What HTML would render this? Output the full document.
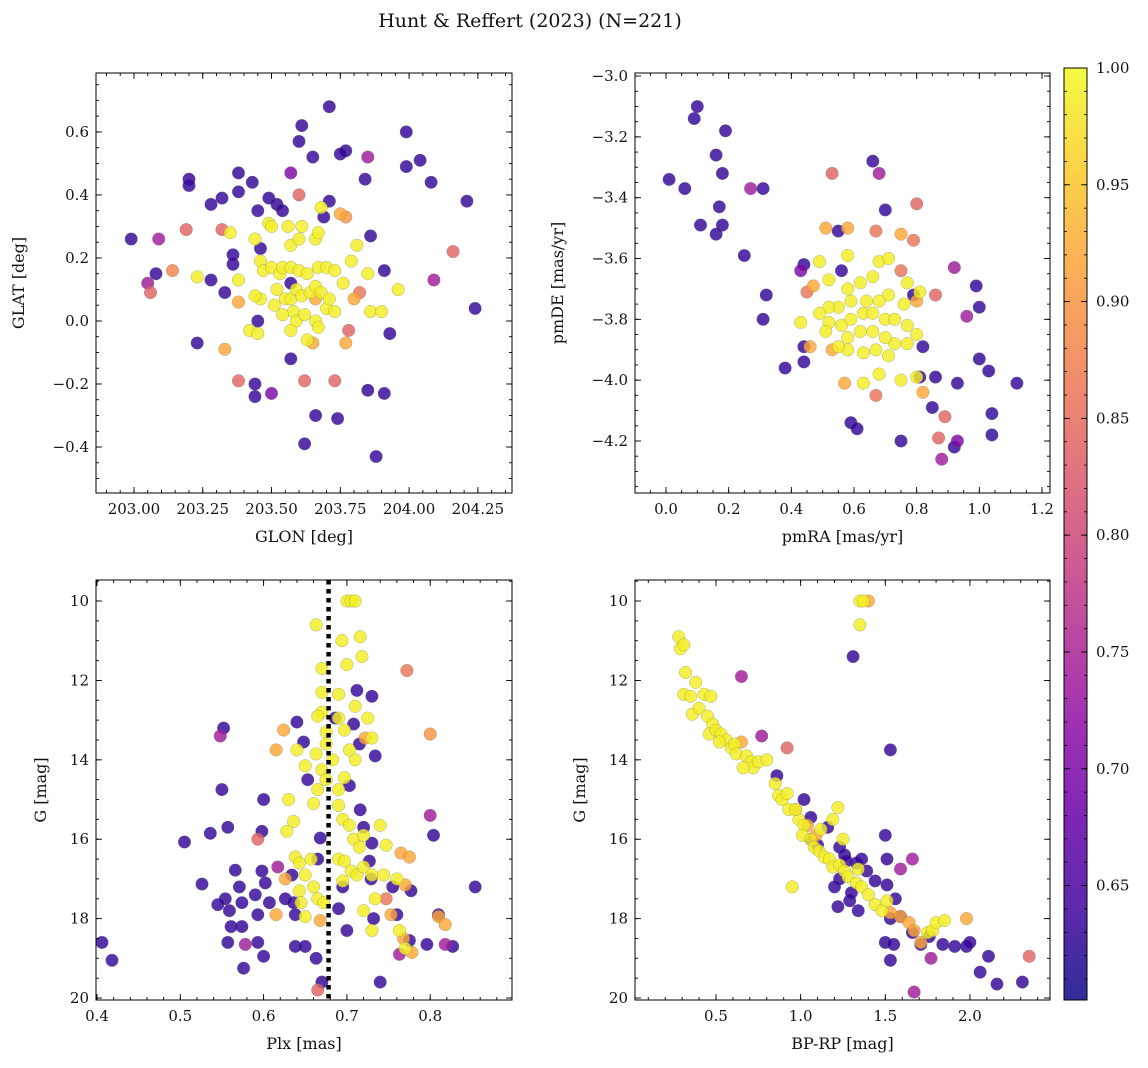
<!DOCTYPE html>
<html><head><meta charset="utf-8">
<style>
html,body{margin:0;padding:0;background:#fff;}
svg{display:block;font-family:"DejaVu Serif","Liberation Serif",serif;}
</style></head>
<body>
<svg id="fig" width="1148" height="1068" viewBox="0 0 1148 1068">
<text x="530" y="27" text-anchor="middle" font-size="19" fill="#111">Hunt &amp; Reffert (2023) (N=221)</text>
</svg>
<script>
// ---- Data (probability codes: 0.99 yellow, 0.92 orange, 0.84 pink, 0.74 magenta, 0.63 purple)
const glon=[202.99,203.09,203.08,203.05,203.06,203.14,203.19,203.20,203.20,203.23,203.28,203.28,203.32,203.32,203.33,203.36,203.38,203.38,203.36,203.33,203.38,203.43,203.44,203.44,203.45,203.45,203.46,203.49,203.50,203.52,203.54,203.57,203.57,203.60,203.61,203.60,203.62,203.62,203.65,203.66,203.66,203.69,203.71,203.71,203.73,203.74,203.77,203.75,203.75,203.77,203.78,203.84,203.85,203.85,203.86,203.88,203.91,203.91,203.93,203.99,203.99,204.04,204.08,204.09,204.16,204.21,204.24,203.57,
203.23,203.35,203.38,203.38,203.42,203.45,203.46,203.49,203.47,203.50,203.53,203.54,203.57,203.60,203.63,203.67,203.70,203.73,203.76,203.79,203.81,203.85,203.86,203.90,203.96,203.80,203.52,203.55,203.58,203.59,203.62,203.66,203.67,203.70,203.73,203.57,203.59,203.61,203.64,203.66,203.68,203.71,203.57,203.60,203.66,203.67,203.61,203.56,203.50,203.44,203.68,203.77,203.82,203.57,203.63,203.65,203.51,203.54,203.46,203.44];
const glat=[0.26,0.26,0.15,0.12,0.09,0.16,0.29,0.45,0.43,-0.07,0.13,0.37,0.39,0.29,0.09,0.18,0.47,0.41,0.21,-0.09,-0.19,0.44,-0.20,-0.24,0.00,0.35,0.23,0.39,-0.23,0.37,0.35,0.47,-0.12,0.57,0.62,0.40,-0.19,-0.39,0.52,0.07,-0.30,0.33,0.68,0.38,-0.19,-0.31,0.54,0.53,0.34,-0.07,-0.03,0.45,0.52,-0.22,0.27,-0.43,-0.23,0.16,-0.04,0.60,0.49,0.51,0.44,0.13,0.22,0.38,0.04,0.12,
0.14,0.28,0.06,0.13,-0.03,-0.04,0.19,0.31,0.16,0.17,0.15,0.17,0.17,0.16,0.15,0.17,0.17,0.16,0.12,0.19,0.24,0.15,0.03,0.03,0.10,0.07,0.10,0.07,0.03,0.00,0.02,0.00,-0.02,0.04,0.03,0.07,0.10,0.08,0.09,0.11,0.09,0.07,0.24,0.26,0.26,0.28,0.30,0.30,0.30,0.26,0.36,0.33,0.09,-0.03,-0.06,-0.07,0.05,0.02,0.07,0.08];
const prob1=[0.63,0.74,0.63,0.74,0.84,0.88,0.84,0.63,0.63,0.63,0.63,0.63,0.63,0.84,0.63,0.63,0.63,0.63,0.63,0.92,0.84,0.63,0.63,0.63,0.63,0.63,0.63,0.63,0.70,0.63,0.63,0.70,0.63,0.63,0.63,0.84,0.84,0.63,0.63,0.92,0.63,0.63,0.63,0.63,0.84,0.63,0.63,0.63,0.92,0.92,0.84,0.63,0.74,0.63,0.63,0.63,0.63,0.63,0.63,0.63,0.63,0.63,0.63,0.74,0.84,0.63,0.63,0.63,
0.99,0.99,0.92,0.99,0.99,0.99,0.99,0.99,0.99,0.99,0.99,0.99,0.99,0.99,0.99,0.99,0.99,0.99,0.99,0.99,0.99,0.99,0.99,0.99,0.99,0.92,0.99,0.99,0.99,0.99,0.99,0.99,0.99,0.99,0.99,0.99,0.99,0.99,0.99,0.99,0.99,0.99,0.99,0.99,0.99,0.99,0.99,0.99,0.99,0.99,0.99,0.90,0.86,0.99,0.99,0.92,0.99,0.99,0.99,0.99];

const pmra=[0.01,0.06,0.10,0.09,0.11,0.19,0.16,0.18,0.17,0.18,0.16,0.25,0.27,0.31,0.32,0.31,0.38,0.43,0.44,0.44,0.44,0.53,0.55,0.56,0.66,0.68,0.70,0.80,0.59,0.61,0.75,0.81,0.86,0.85,0.87,0.88,0.92,0.93,0.89,0.93,0.96,0.92,0.99,1.00,1.00,1.03,1.04,1.04,1.12,0.79,0.82,0.86,
0.51,0.58,0.67,0.75,0.79,0.58,0.49,0.47,0.45,0.52,0.58,0.62,0.66,0.68,0.71,0.75,0.77,0.80,0.76,0.71,0.68,0.64,0.59,0.55,0.52,0.49,0.52,0.56,0.59,0.63,0.66,0.70,0.73,0.77,0.80,0.77,0.73,0.70,0.66,0.62,0.58,0.58,0.63,0.67,0.71,0.68,0.63,0.57,0.75,0.80,0.82,0.67,0.53,0.46,0.43,0.51,0.55,0.81];
const pmde=[-3.34,-3.37,-3.10,-3.14,-3.49,-3.18,-3.26,-3.32,-3.43,-3.49,-3.52,-3.59,-3.37,-3.37,-3.72,-3.80,-3.96,-3.64,-3.62,-3.94,-3.89,-3.32,-3.51,-3.64,-3.28,-3.32,-3.44,-3.42,-4.14,-4.16,-4.20,-3.99,-3.99,-4.09,-4.19,-4.26,-4.22,-4.20,-4.12,-4.01,-3.79,-3.63,-3.69,-3.76,-3.93,-3.97,-4.11,-4.18,-4.01,-3.72,-3.89,-3.72,
-3.50,-3.50,-3.51,-3.52,-3.54,-3.59,-3.61,-3.69,-3.71,-3.67,-3.70,-3.68,-3.66,-3.61,-3.60,-3.64,-3.68,-3.74,-3.75,-3.72,-3.74,-3.74,-3.74,-3.76,-3.76,-3.78,-3.81,-3.82,-3.80,-3.78,-3.78,-3.80,-3.80,-3.82,-3.85,-3.88,-3.88,-3.86,-3.84,-3.84,-3.86,-3.90,-3.91,-3.90,-3.92,-3.98,-4.01,-4.01,-4.00,-3.99,-4.04,-4.05,-3.90,-3.89,-3.81,-3.84,-3.89,-3.71];
const prob2=[0.63,0.63,0.63,0.63,0.63,0.63,0.63,0.63,0.63,0.63,0.63,0.63,0.74,0.63,0.63,0.63,0.63,0.70,0.63,0.63,0.63,0.84,0.63,0.63,0.63,0.74,0.63,0.84,0.63,0.63,0.63,0.63,0.63,0.63,0.84,0.74,0.63,0.70,0.84,0.63,0.74,0.74,0.63,0.63,0.63,0.63,0.63,0.63,0.63,0.63,0.63,0.84,
0.92,0.92,0.86,0.92,0.86,0.99,0.99,0.92,0.86,0.99,0.99,0.99,0.99,0.99,0.99,0.86,0.99,0.92,0.99,0.99,0.99,0.99,0.99,0.99,0.99,0.99,0.99,0.99,0.99,0.99,0.99,0.99,0.99,0.99,0.99,0.99,0.99,0.99,0.99,0.99,0.99,0.99,0.99,0.99,0.99,0.99,0.99,0.92,0.99,0.99,0.92,0.86,0.92,0.92,0.99,0.99,0.99,0.99];

const plx=[0.406,0.418,0.505,0.526,0.536,0.545,0.55,0.552,0.548,0.557,0.554,0.559,0.561,0.557,0.566,0.571,0.574,0.574,0.578,0.576,0.59,0.593,0.593,0.598,0.60,0.598,0.60,0.607,0.602,0.617,0.626,0.634,0.636,0.638,0.638,0.64,0.648,0.653,0.65,0.665,0.668,0.663,0.67,0.665,0.686,0.69,0.695,0.70,0.703,0.708,0.712,0.715,0.716,0.72,0.727,0.729,0.73,0.73,0.732,0.734,0.74,0.755,0.76,0.763,0.775,0.777,0.796,0.80,0.804,0.81,0.818,0.827,0.854,
0.70,0.705,0.71,0.663,0.694,0.70,0.716,0.718,0.772,0.67,0.67,0.67,0.665,0.675,0.69,0.69,0.697,0.71,0.725,0.722,0.73,0.624,0.615,0.80,0.64,0.65,0.663,0.665,0.66,0.67,0.675,0.675,0.683,0.69,0.69,0.697,0.695,0.703,0.708,0.63,0.636,0.628,0.638,0.643,0.657,0.65,0.643,0.645,0.65,0.626,0.615,0.593,0.66,0.665,0.668,0.672,0.69,0.697,0.695,0.705,0.712,0.72,0.73,0.734,0.72,0.73,0.744,0.747,0.76,0.77,0.753,0.768,0.77,0.778,0.765,0.775,0.763,0.81,0.818,0.715,0.72,0.74,0.747,0.71,0.703];
const gmag3=[18.6,19.05,16.07,17.13,15.85,17.65,14.75,13.2,13.4,15.7,17.5,17.8,18.2,18.6,16.78,17.2,17.6,18.2,18.65,19.25,17.4,17.9,18.6,16.8,15.0,15.8,18.95,17.6,17.1,16.7,17.5,16.9,17.6,17.9,18.7,13.05,13.55,14.5,18.7,16.5,15.97,19.0,19.6,19.8,12.95,17.75,17.2,18.3,14.65,13.1,12.25,13.6,15.26,15.7,16.55,17.0,16.1,12.4,18.0,13.9,19.6,17.2,17.9,18.9,18.55,17.3,18.65,15.4,15.9,17.9,18.65,18.7,17.2,
10.0,10.0,10.0,10.6,11.0,11.6,10.9,11.4,11.75,11.7,12.3,12.8,12.9,13.3,12.35,12.95,13.25,12.65,12.95,13.45,13.45,13.25,13.75,13.35,13.75,14.15,13.85,14.75,15.1,14.25,13.6,14.5,14.0,14.75,15.15,14.45,15.5,15.65,16.0,15.0,15.55,15.8,16.45,16.6,16.5,16.9,17.3,17.6,17.95,17.0,17.9,16.0,17.2,17.5,18.05,17.6,16.5,16.55,17.05,16.8,16.9,16.7,16.9,17.5,17.8,18.3,16.9,17.5,17.0,17.15,17.9,18.5,18.75,18.85,16.35,16.45,18.3,17.95,18.15,16.2,15.9,15.65,16.15,14.0,13.75];
const prob3=[0.63,0.63,0.63,0.63,0.63,0.63,0.63,0.63,0.74,0.63,0.63,0.63,0.63,0.63,0.63,0.63,0.63,0.63,0.74,0.63,0.63,0.63,0.63,0.63,0.63,0.63,0.63,0.63,0.63,0.74,0.63,0.63,0.63,0.63,0.63,0.63,0.63,0.63,0.63,0.63,0.63,0.63,0.63,0.84,0.63,0.63,0.63,0.63,0.63,0.63,0.63,0.63,0.63,0.63,0.63,0.63,0.63,0.63,0.63,0.63,0.63,0.63,0.63,0.74,0.63,0.63,0.63,0.74,0.63,0.63,0.74,0.63,0.63,
0.99,0.99,0.99,0.99,0.99,0.99,0.99,0.99,0.86,0.99,0.99,0.99,0.99,0.99,0.99,0.99,0.99,0.99,0.99,0.92,0.99,0.92,0.92,0.90,0.99,0.99,0.99,0.99,0.99,0.99,0.99,0.99,0.99,0.99,0.99,0.99,0.99,0.99,0.99,0.99,0.99,0.99,0.99,0.99,0.99,0.99,0.99,0.99,0.99,0.92,0.92,0.84,0.99,0.99,0.92,0.99,0.99,0.99,0.99,0.99,0.99,0.99,0.99,0.99,0.99,0.99,0.99,0.86,0.99,0.92,0.92,0.92,0.99,0.92,0.92,0.92,0.99,0.92,0.92,0.99,0.99,0.99,0.99,0.99,0.99];

const bprp=[0.28,0.29,0.31,0.32,0.31,0.35,0.38,0.43,0.47,0.36,0.40,0.45,0.48,0.46,0.50,0.53,0.56,0.52,0.59,0.61,0.62,0.65,0.68,0.71,0.72,0.75,0.80,0.66,0.85,0.87,0.89,0.92,0.93,0.97,0.99,1.02,1.01,1.06,1.08,1.11,1.14,1.17,1.19,1.23,1.26,1.28,1.33,1.36,1.40,1.44,1.48,1.51,1.53,1.59,1.64,1.67,1.71,1.75,1.78,1.80,1.85,1.98,2.35,0.95,1.35,1.37,1.40,1.35,1.22,1.19,1.12,1.09,1.04,0.97,1.25,1.34,
1.31,1.53,0.65,0.77,0.92,0.86,1.02,1.06,1.16,1.23,1.26,1.33,1.39,1.50,1.51,1.44,1.51,1.56,1.59,1.66,1.53,1.50,1.55,1.53,1.59,1.66,1.71,1.76,1.77,1.84,1.91,1.98,2.00,2.06,2.11,2.16,2.31,1.67,1.23,1.20,1.22,1.29,1.34,1.30,1.27,1.36,1.10,1.06];
const gmag4=[10.9,11.2,11.1,11.8,12.35,12.4,12.05,12.35,12.4,12.85,12.7,12.9,13.1,13.35,13.25,13.35,13.5,13.55,13.7,13.6,13.85,13.55,13.9,14.05,14.2,14.05,14.0,14.2,14.6,14.9,15.0,14.85,15.25,15.25,15.5,15.65,15.9,16.0,16.2,16.3,16.45,16.5,16.7,16.65,16.8,16.95,17.1,17.2,17.4,17.65,17.8,17.55,17.85,17.95,18.1,18.3,18.6,18.35,18.3,18.1,18.05,18.0,18.95,17.2,10.0,10.0,10.0,10.6,15.2,15.5,15.75,15.9,15.65,15.25,16.0,16.75,
11.4,13.75,11.9,13.4,13.7,14.4,15.0,15.45,15.7,16.2,16.4,16.6,16.8,15.9,16.5,17.05,17.15,17.5,16.75,16.5,18.0,18.6,18.65,19.05,17.95,18.35,18.65,18.45,19.0,18.65,18.7,18.7,18.6,19.35,18.95,19.65,19.6,19.85,17.0,17.2,17.7,17.55,17.8,17.35,16.55,16.5,16.15,16.0];
const prob4=[0.99,0.99,0.99,0.99,0.99,0.99,0.99,0.99,0.99,0.99,0.99,0.99,0.99,0.99,0.99,0.99,0.99,0.99,0.99,0.99,0.99,0.92,0.99,0.99,0.99,0.99,0.99,0.99,0.99,0.99,0.99,0.99,0.99,0.92,0.99,0.99,0.99,0.99,0.99,0.99,0.99,0.99,0.99,0.99,0.99,0.99,0.99,0.99,0.99,0.99,0.99,0.99,0.92,0.92,0.92,0.92,0.92,0.99,0.99,0.99,0.99,0.92,0.84,0.99,0.99,0.99,0.92,0.99,0.99,0.99,0.99,0.92,0.92,0.99,0.99,0.99,
0.63,0.63,0.74,0.74,0.84,0.63,0.63,0.63,0.63,0.63,0.63,0.63,0.63,0.63,0.63,0.63,0.63,0.63,0.74,0.74,0.63,0.63,0.63,0.63,0.63,0.63,0.63,0.63,0.74,0.63,0.63,0.63,0.63,0.63,0.63,0.63,0.63,0.74,0.63,0.63,0.63,0.63,0.63,0.63,0.63,0.63,0.63,0.63];

const cbTicks=[0.65,0.70,0.75,0.80,0.85,0.90,0.95,1.00];
const plxRef=[0.678];

// ---- helpers
const NS="http://www.w3.org/2000/svg";
const svg=document.getElementById('fig');
function mk(tag,attrs,parent){const e=document.createElementNS(NS,tag);for(const k in attrs)e.setAttribute(k,attrs[k]);(parent||svg).appendChild(e);return e;}
const VMIN=0.601,VMAX=1.0;
const stops=[[13,8,135],[65,4,157],[106,0,168],[143,13,164],[177,42,144],[204,71,120],[225,100,98],[242,132,75],[252,166,54],[252,206,37],[240,249,33]];
function plasma(v){let t=(v-VMIN)/(VMAX-VMIN);t=Math.max(0,Math.min(1,t));const f=t*10,i=Math.min(9,Math.floor(f)),r=f-i;const a=stops[i],b=stops[i+1];return `rgb(${Math.round(a[0]+(b[0]-a[0])*r)},${Math.round(a[1]+(b[1]-a[1])*r)},${Math.round(a[2]+(b[2]-a[2])*r)})`;}
function fmt(v,d){let s=v.toFixed(d);if(s.startsWith('-'))s='\u2212'+s.slice(1);return s;}

function panel(cfg,xs,ys,ps){
  const {L,R,T,B,x0,x1,y0,y1,name}=cfg;
  const g=mk('g',{});
  
  
  const sx=v=>L+(v-x0)/(x1-x0)*(R-L);
  const sy=v=>T+(y1-v)/(y1-y0)*(B-T);
  const clipId='clip-'+name;
  const cp=mk('clipPath',{id:clipId},g);mk('rect',{x:L,y:T,width:R-L,height:B-T},cp);
  const pts=mk('g',{'clip-path':`url(#${clipId})`},g);
  
  
  const idx=xs.map((_,i)=>i).sort((a,b)=>ps[a]-ps[b]);
  idx.forEach(i=>{
    const c=mk('circle',{cx:sx(xs[i]).toFixed(1),cy:sy(ys[i]).toFixed(1),r:6.3,fill:plasma(ps[i]),'fill-opacity':0.82,stroke:'#666','stroke-width':0.4,'stroke-opacity':0.6},pts);
    
    
  });
  if(cfg.vline){cfg.vline.forEach(v=>{const l=mk('line',{x1:sx(v),x2:sx(v),y1:T,y2:B,stroke:'#000','stroke-width':4.5,'stroke-dasharray':'4.5,4.5'},g);});}
  const fr=mk('rect',{x:L,y:T,width:R-L,height:B-T,fill:'none',stroke:'#000','stroke-width':1},g);
  
  
  const tk=mk('g',{stroke:'#000','stroke-width':0.9},g);
  const eps=1e-9;
  for(let v=Math.ceil(x0/cfg.xmin-eps)*cfg.xmin;v<=x1+eps;v+=cfg.xmin){const X=sx(v);mk('line',{x1:X,x2:X,y1:B,y2:B-3},tk);mk('line',{x1:X,x2:X,y1:T,y2:T+3},tk);}
  for(let v=Math.ceil(y0/cfg.ymin-eps)*cfg.ymin;v<=y1+eps;v+=cfg.ymin){const Y=sy(v);mk('line',{x1:L,x2:L+3,y1:Y,y2:Y},tk);mk('line',{x1:R,x2:R-3,y1:Y,y2:Y},tk);}
  cfg.xt.forEach(v=>{const X=sx(v);mk('line',{x1:X,x2:X,y1:B,y2:B-6},tk);mk('line',{x1:X,x2:X,y1:T,y2:T+6},tk);
    const t=mk('text',{x:X,y:B+21,'text-anchor':'middle','font-size':15,fill:'#111'},g);t.textContent=fmt(v,cfg.xd);});
  cfg.yt.forEach(v=>{const Y=sy(v);mk('line',{x1:L,x2:L+6,y1:Y,y2:Y},tk);mk('line',{x1:R,x2:R-6,y1:Y,y2:Y},tk);
    const t=mk('text',{x:L-7,y:Y+5,'text-anchor':'end','font-size':15,fill:'#111'},g);t.textContent=fmt(v,cfg.yd);});
  const xl=mk('text',{x:(L+R)/2,y:B+49,'text-anchor':'middle','font-size':16,fill:'#111'},g);xl.textContent=cfg.xlab;
  
  const yl=mk('text',{x:cfg.ylx,y:(T+B)/2,'text-anchor':'middle','font-size':16,fill:'#111',transform:`rotate(-90 ${cfg.ylx} ${(T+B)/2})`},g);yl.textContent=cfg.ylab;
  
}
const rng=(a,b,s)=>{const o=[];for(let v=a;v<=b+1e-9;v+=s)o.push(+v.toFixed(4));return o;};

panel({name:'glon-glat-panel',L:96,R:512,T:73,B:493,x0:202.862,x1:204.374,y0:-0.546,y1:0.787,xt:rng(203,204.25,0.25),xd:2,yt:rng(-0.4,0.6,0.2),yd:1,xmin:0.05,ymin:0.05,xlab:'GLON [deg]',ylab:'GLAT [deg]',ylx:24},glon,glat,prob1);
panel({name:'proper-motion-panel',L:635,R:1050,T:73,B:493,x0:-0.099,x1:1.2256,y0:-4.371,y1:-2.99,xt:rng(0,1.2,0.2),xd:1,yt:rng(-4.2,-3.0,0.2),yd:1,xmin:0.05,ymin:0.05,xlab:'pmRA [mas/yr]',ylab:'pmDE [mas/yr]',ylx:563},pmra,pmde,prob2);
panel({name:'parallax-mag-panel',L:96,R:512,T:580,B:1000,x0:0.3988,x1:0.8982,y0:-20.05,y1:-9.47,xt:rng(0.4,0.8,0.1),xd:1,yt:[],yd:0,xmin:0.02,ymin:0.5,xlab:'Plx [mas]',ylab:'G [mag]',ylx:46,vline:plxRef},plx,gmag3.map(v=>-v),prob3);
panel({name:'cmd-panel',L:635,R:1050,T:580,B:1000,x0:0.0216,x1:2.473,y0:-20.05,y1:-9.47,xt:rng(0.5,2.0,0.5),xd:1,yt:[],yd:0,xmin:0.1,ymin:0.5,xlab:'BP-RP [mag]',ylab:'G [mag]',ylx:585},bprp,gmag4.map(v=>-v),prob4);
[[96,'parallax'],[635,'cmd']].forEach(([L,n])=>{
  [10,12,14,16,18,20].forEach(m=>{const Y=580+(m-9.47)/(20.05-9.47)*420;
    mk('line',{x1:L,x2:L+6,y1:Y,y2:Y,stroke:'#000','stroke-width':0.9});
    mk('line',{x1:L+(n==='cmd'?415:416),x2:L+(n==='cmd'?409:410),y1:Y,y2:Y,stroke:'#000','stroke-width':0.9});
    const t=mk('text',{x:L-7,y:Y+5,'text-anchor':'end','font-size':15,fill:'#111'});t.textContent=String(m);
    
    });
});

// ---- colorbar
(function(){
  const L=1064,R=1087,T=68,B=1000;
  const g=mk('g',{});
  
  
  const defs=mk('defs',{},g);
  const lg=mk('linearGradient',{id:'cbg',x1:0,y1:1,x2:0,y2:0},defs);
  for(let i=0;i<=20;i++){const v=VMIN+(VMAX-VMIN)*i/20;mk('stop',{offset:i/20,'stop-color':plasma(v),'stop-opacity':0.85},lg);}
  mk('rect',{x:L,y:T,width:R-L,height:B-T,fill:'url(#cbg)',stroke:'#000','stroke-width':1},g);
  const sy=v=>T+(VMAX-v)/(VMAX-VMIN)*(B-T);
  for(let v=0.61;v<=1.0001;v+=0.01){const Y=sy(v);mk('line',{x1:R,x2:R-3,y1:Y,y2:Y,stroke:'#000','stroke-width':0.8},g);mk('line',{x1:L,x2:L+3,y1:Y,y2:Y,stroke:'#000','stroke-width':0.8},g);}
  cbTicks.forEach(v=>{const Y=sy(v);mk('line',{x1:R,x2:R-6,y1:Y,y2:Y,stroke:'#000','stroke-width':0.9},g);mk('line',{x1:L,x2:L+6,y1:Y,y2:Y,stroke:'#000','stroke-width':0.9},g);
    const t=mk('text',{x:R+9,y:Y+5,'font-size':15,fill:'#111'},g);t.textContent=v.toFixed(2);
    
    });
})();
</script>
</body></html>
